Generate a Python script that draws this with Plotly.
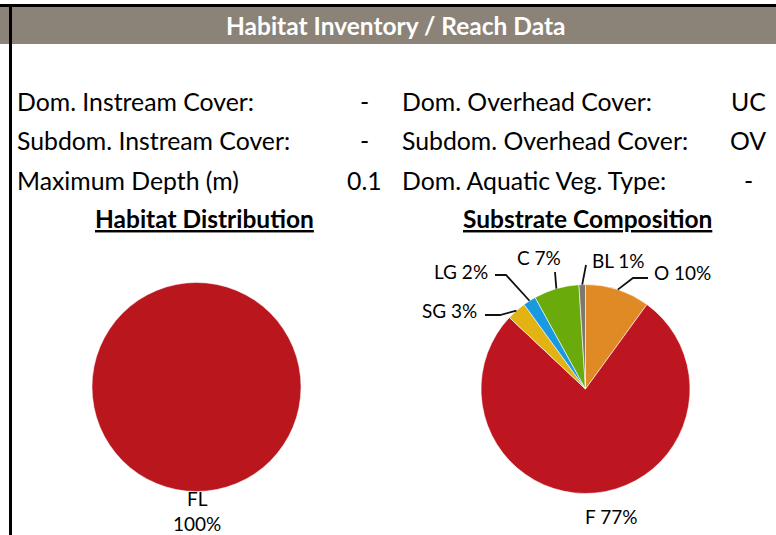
import math
import plotly.graph_objects as go

# ---------------- data ----------------
left_fields = ["Dom. Instream Cover:", "Subdom. Instream Cover:", "Maximum Depth (m)"]
left_values = ["-", "-", "0.1"]
right_fields = ["Dom. Overhead Cover:", "Subdom. Overhead Cover:", "Dom. Aquatic Veg. Type:"]
right_values = ["UC", "OV", "-"]

habitat_labels = ["FL"]
habitat_values = [100]
habitat_colors = ["#B9161E"]

substrate_labels = ["O", "F", "SG", "LG", "C", "BL"]
substrate_values = [10, 77, 3, 2, 7, 1]
substrate_colors = ["#E08A25", "#BE1620", "#E3B314", "#1899E0", "#6AAA0A", "#7D776F"]

# ---------------- layout helpers ----------------
W, H = 776, 535
FONT = "Lato"


def px(x):
    return x / W


def py(y):
    return 1 - y / H


fig = go.Figure()

# pies
LC, RC, R = (196.5, 387.0), (585.5, 389.0), 104.5


def dom(c, r):
    return dict(x=[px(c[0] - r), px(c[0] + r)], y=[py(c[1] + r), py(c[1] - r)])


fig.add_trace(go.Pie(labels=habitat_labels, values=habitat_values, sort=False,
                     direction="clockwise", rotation=0, textinfo="none", hoverinfo="skip",
                     marker=dict(colors=habitat_colors, line=dict(color="white", width=0.5)),
                     domain=dom(LC, R), showlegend=False))
fig.add_trace(go.Pie(labels=substrate_labels, values=substrate_values, sort=False,
                     direction="clockwise", rotation=0, textinfo="none", hoverinfo="skip",
                     marker=dict(colors=substrate_colors, line=dict(color="white", width=0.6)),
                     domain=dom(RC, R), showlegend=False))

shapes = [
    dict(type="rect", xref="paper", yref="paper", x0=0, x1=1, y0=py(44), y1=py(7),
         fillcolor="#8B8377", line=dict(width=0), layer="below"),
    dict(type="rect", xref="paper", yref="paper", x0=0, x1=1, y0=py(7), y1=py(4),
         fillcolor="black", line=dict(width=0)),
    dict(type="rect", xref="paper", yref="paper", x0=px(9), x1=px(12), y0=0, y1=py(4),
         fillcolor="black", line=dict(width=0)),
]

ann = []
ann.append(dict(text="<b>Habitat Inventory / Reach Data</b>", x=px(395), y=py(25),
                font=dict(family=FONT, size=24.5, color="white")))

row_y = [101, 140, 180]
for i, yy in enumerate(row_y):
    ann.append(dict(text=left_fields[i], x=px(15), y=py(yy), xanchor="left",
                    font=dict(family=FONT, size=24.8, color="black")))
    ann.append(dict(text=left_values[i], x=px(364), y=py(yy),
                    font=dict(family=FONT, size=24.8, color="black")))
    ann.append(dict(text=right_fields[i], x=px(400), y=py(yy), xanchor="left",
                    font=dict(family=FONT, size=24.8, color="black")))
    ann.append(dict(text=right_values[i], x=px(748), y=py(yy),
                    font=dict(family=FONT, size=24.8, color="black")))

ann.append(dict(text="<b><u>Habitat Distribution</u></b>", x=px(204), y=py(218),
                font=dict(family=FONT, size=24.5, color="black")))
ann.append(dict(text="<b><u>Substrate Composition</u></b>", x=px(587), y=py(218),
                font=dict(family=FONT, size=24.5, color="black")))

# habitat label
ann.append(dict(text=f"{habitat_labels[0]}<br>{habitat_values[0]}%", x=px(197), y=py(511),
                font=dict(family=FONT, size=19, color="black")))

# substrate labels and leaders
label_layout = {
    "O": dict(pts=[(633, 278), (648, 278)], pos=(652, 272), anchor="left"),
    "BL": dict(pts=[(586, 265)], pos=(590, 260), anchor="left"),
    "C": dict(pts=[(555, 272)], pos=(539, 257), anchor="center"),
    "LG": dict(pts=[(506, 275), (495, 275)], pos=(490, 271), anchor="right"),
    "SG": dict(pts=[(500, 315), (485, 315)], pos=(479, 310), anchor="right"),
    "F": dict(pts=[], pos=(611, 516), anchor="center"),
}
total = sum(substrate_values)
cum = 0
for lab, val in zip(substrate_labels, substrate_values):
    mid = (cum + val / 2) / total * 2 * math.pi
    cum += val
    L = label_layout[lab]
    sx, sy = RC[0] + R * math.sin(mid), RC[1] - R * math.cos(mid)
    if L["pts"]:
        pts = [(sx, sy)] + L["pts"]
        path = "M " + " L ".join(f"{px(a)},{py(b)}" for a, b in pts)
        shapes.append(dict(type="path", xref="paper", yref="paper", path=path,
                           line=dict(color="#111111", width=1.8)))
    ann.append(dict(text=f"{lab} {val}%", x=px(L["pos"][0]), y=py(L["pos"][1]),
                    xanchor=L["anchor"], font=dict(family=FONT, size=19, color="black")))

for a in ann:
    a.setdefault("xanchor", "center")
    a.update(xref="paper", yref="paper", yanchor="middle", showarrow=False)

fig.update_layout(width=W, height=H, margin=dict(l=0, r=0, t=0, b=0),
                  paper_bgcolor="white", plot_bgcolor="white", hovermode=False,
                  shapes=shapes, annotations=ann)

fig.write_html("out.html", config={"displayModeBar": False},
               post_script="document.body.style.margin='0';document.body.style.overflow='hidden';")
